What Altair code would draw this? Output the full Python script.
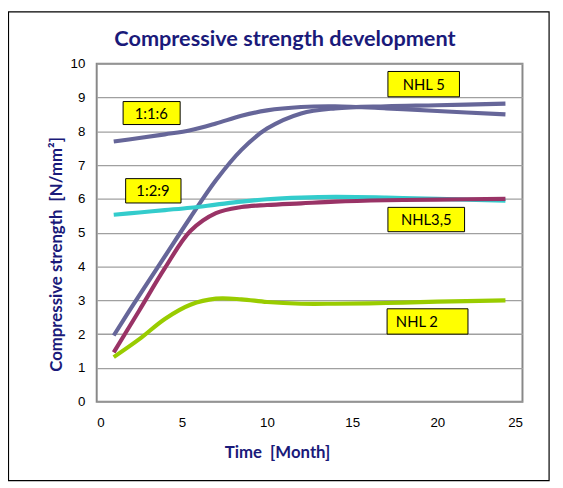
import altair as alt
import pandas as pd

# --- data ---
times = [1, 2.5, 4, 5.5, 7, 8.5, 10, 12, 14, 17, 20, 24]
series_names = ["1:1:6", "NHL 5", "1:2:9", "NHL3,5", "NHL 2"]
s_116 = [7.70, 7.80, 7.91, 8.03, 8.23, 8.46, 8.62, 8.72, 8.74, 8.68, 8.60, 8.50]
s_nhl5 = [1.96, 3.15, 4.30, 5.45, 6.55, 7.45, 8.08, 8.53, 8.68, 8.74, 8.77, 8.82]
s_129 = [5.53, 5.60, 5.67, 5.74, 5.83, 5.92, 5.99, 6.04, 6.06, 6.04, 6.00, 5.95]
s_nhl35 = [1.46, 2.70, 3.95, 5.05, 5.58, 5.76, 5.82, 5.87, 5.92, 5.96, 5.98, 6.00]
s_nhl2 = [1.32, 1.85, 2.45, 2.87, 3.05, 3.03, 2.95, 2.90, 2.90, 2.92, 2.96, 3.00]
series_colors = ["#666699", "#666699", "#33CCCC", "#993366", "#99CC00"]

# label boxes (data units)
label_text = ["1:1:6", "NHL 5", "1:2:9", "NHL3,5", "NHL 2"]
label_x = [3.2, 19.2, 3.3, 19.35, 18.8]
label_y = [8.52, 9.38, 6.22, 5.38, 2.36]
box_x1 = [1.55, 17.1, 1.7, 17.1, 17.05]
box_x2 = [4.9, 21.3, 4.95, 21.6, 21.8]
box_y1 = [8.2, 9.02, 5.88, 5.03, 2.0]
box_y2 = [8.88, 9.77, 6.6, 5.75, 2.75]

x_ticks = [0, 5, 10, 15, 20, 25]
y_ticks = [0, 1, 2, 3, 4, 5, 6, 7, 8, 9, 10]

chart_title = "Compressive strength development"
x_title = "Time\u00a0 [Month]"
y_title = "Compressive strength\u00a0 [N/mm²]"

rows = []
for name, vals in zip(series_names, [s_116, s_nhl5, s_129, s_nhl35, s_nhl2]):
    for t, v in zip(times, vals):
        rows.append({"series": name, "t": t, "v": v})
df = pd.DataFrame(rows)

labels = pd.DataFrame({
    "text": label_text, "lx": label_x, "ly": label_y,
    "x1": box_x1, "x2": box_x2, "y1": box_y1, "y2": box_y2,
})

navy = "#1A1A7A"
xscale = alt.Scale(domain=[0, 25], nice=False)
yscale = alt.Scale(domain=[0, 10], nice=False)

x_axis = alt.Axis(values=x_ticks, title=x_title,
                  grid=False, domain=False, ticks=False, labelPadding=14,
                  labelOverlap=False,
                  titleX=183, titleY=57, titleBaseline="alphabetic",
                  titleAlign="center")
y_axis = alt.Axis(values=y_ticks, title=y_title,
                  grid=True, domain=False, ticks=False, labelPadding=12,
                  labelOverlap=False,
                  titleX=-36, titleY=193, titleBaseline="alphabetic",
                  titleAlign="center", titleAngle=270)

lines = alt.Chart(df).mark_line(strokeWidth=4.2, interpolate="catmull-rom").encode(
    x=alt.X("t:Q", scale=xscale, axis=x_axis),
    y=alt.Y("v:Q", scale=yscale, axis=y_axis),
    color=alt.Color("series:N", scale=alt.Scale(domain=series_names, range=series_colors),
                    legend=None),
    detail="series:N",
)

boxes = alt.Chart(labels).mark_rect(fill="#FFFF00", stroke="#000000", strokeWidth=1).encode(
    x=alt.X("x1:Q", scale=xscale, axis=x_axis), x2="x2:Q",
    y=alt.Y("y1:Q", scale=yscale, axis=y_axis), y2="y2:Q",
)
texts = alt.Chart(labels).mark_text(font="Lato", fontSize=15, color="#000000").encode(
    x=alt.X("lx:Q", scale=xscale, axis=x_axis),
    y=alt.Y("ly:Q", scale=yscale, axis=y_axis),
    text="text:N",
)

title_df = pd.DataFrame({"text": [chart_title]})
title_mark = alt.Chart(title_df).mark_text(
    font="Lato", fontSize=22, fontWeight="bold", color=navy,
    align="center", baseline="alphabetic", clip=False,
).encode(x=alt.value(191), y=alt.value(-18), text="text:N")

frame = alt.Chart(title_df).mark_rect(fill=None, stroke="#000000", strokeWidth=1.2, clip=False).encode(
    x=alt.value(-89.5), x2=alt.value(459), y=alt.value(-52.5), y2=alt.value(423),
)

chart = alt.layer(lines, frame, boxes, texts, title_mark).properties(
    width=432, height=343,
    background="#FFFFFF",
    autosize=alt.AutoSizeParams(type="none"),
    padding={"left": 90, "top": 53, "right": 33, "bottom": 84},
).configure_view(
    stroke="#888888", strokeWidth=2,
).configure_axis(
    labelFont="Liberation Sans", labelFontSize=13.5, labelColor="#000000",
    titleFont="Lato", titleFontSize=17, titleFontWeight="bold", titleColor=navy,
    gridColor="#A0A0A0", gridWidth=1.3,
)

chart.save("out.html", embed_options={"renderer": "svg", "actions": False})
